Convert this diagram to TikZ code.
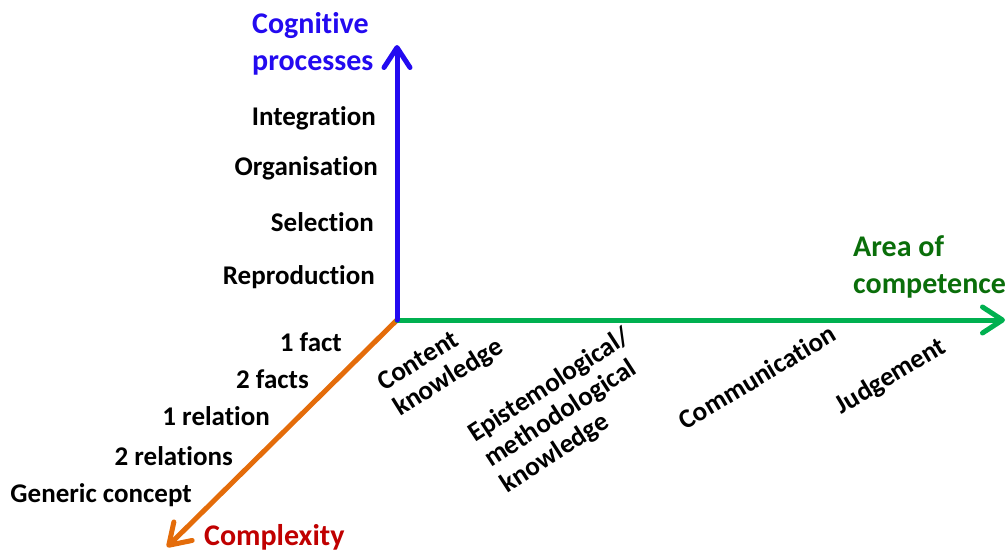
\documentclass[tikz,border=0pt]{standalone}
\usepackage{fontspec}
\setmainfont{Carlito}[RawFeature=-liga]
\usetikzlibrary{arrows.meta}
\definecolor{axblue}{RGB}{35,10,240}
\definecolor{axgreen}{RGB}{0,176,80}
\definecolor{axorange}{RGB}{228,108,10}
\definecolor{txtgreen}{RGB}{10,110,10}
\definecolor{txtred}{RGB}{192,0,0}
\begin{document}
\begin{tikzpicture}[x=1pt,y=-1pt,
  lbl/.style={font=\fontsize{27}{30}\selectfont\bfseries, inner sep=0pt},
  axtitle/.style={lbl, font=\fontsize{30}{37}\selectfont\bfseries, align=left},
  axisline/.style={line width=5pt, line cap=round,
    -{Straight Barb[length=20pt,width=26pt,line cap=round,line join=round]}},
  tilt/.style={lbl, rotate=32, align=left}]
\useasboundingbox (0,0) rectangle (1008,552);
\coordinate (O) at (397,320);
\coordinate (Ytip) at (397,45);
\coordinate (Xtip) at (1005,320);
\coordinate (Ztip) at (167,547);
\draw[axisline, axorange] (O) -- (Ztip);
\draw[axisline, axgreen] (O) -- (Xtip);
\draw[axisline, axblue] (O) -- (Ytip);
% titles
\node[axtitle, text=axblue, anchor=west] (tcog) at (252,44) {Cognitive\\processes};
\node[axtitle, text=txtgreen, anchor=west] (tarea) at (853,267) {Area of\\competence};
\node[lbl, font=\fontsize{30}{37}\selectfont\bfseries, text=txtred, anchor=west] (tcomp) at (204,537) {Complexity};
% cognitive levels
\node[lbl, anchor=east] (int) at (376,118) {Integration};
\node[lbl, anchor=east] (org) at (378,168) {Organisation};
\node[lbl, anchor=east] (sel) at (374,222) {Selection};
\node[lbl, anchor=east] (rep) at (375,277) {Reproduction};
% complexity levels
\node[lbl, anchor=east] (f1) at (342,342) {1 fact};
\node[lbl, anchor=east] (f2) at (309,379) {2 facts};
\node[lbl, anchor=east] (r1) at (270,416) {1 relation};
\node[lbl, anchor=east] (r2) at (233,456) {2 relations};
\node[lbl, anchor=east] (gc) at (192,495) {Generic concept};
% competence areas
\node[tilt] (ck) at (441,366) {Content\\knowledge};
\node[tilt, rotate=1] (em) at (566,411) {Epistemological/\\methodological\\knowledge};
\node[tilt, rotate=-1] (com) at (757,377) {Communication};
\node[tilt, rotate=-1] (jud) at (891,377) {Judgement};
\end{tikzpicture}
\end{document}
